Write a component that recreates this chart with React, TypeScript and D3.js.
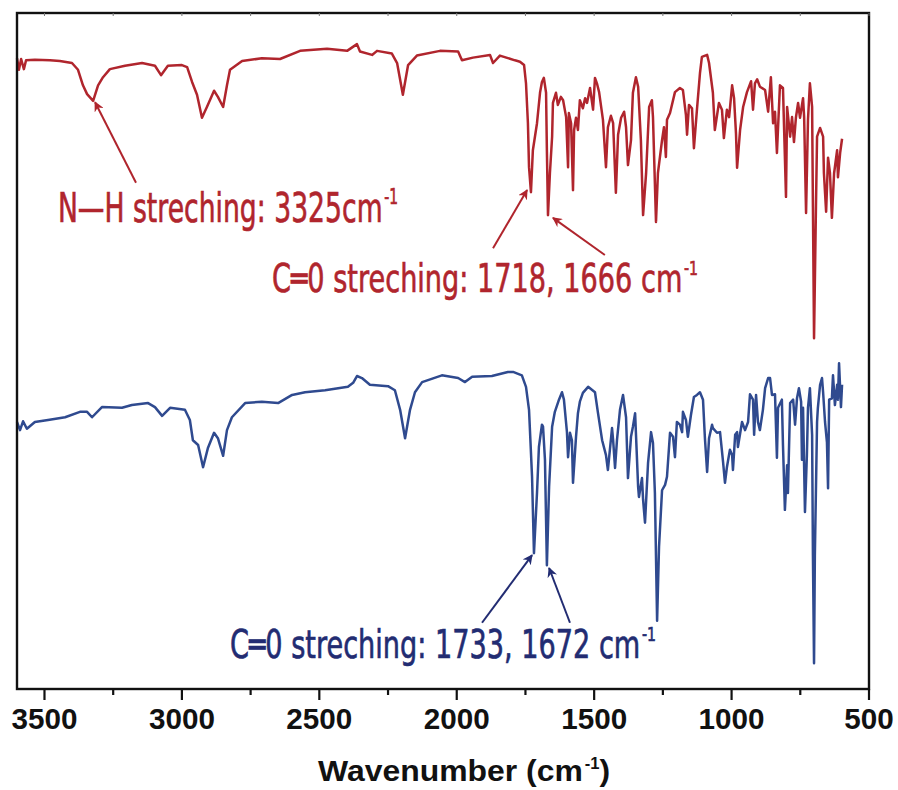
import React, { useLayoutEffect, useRef, useState } from "react";
import * as d3 from "d3";

// ---------- data (wavenumber in cm^-1, offset transmittance in a.u. 0-100) ----------
const redWavenumber = [
  3600, 3593, 3585, 3575, 3567, 3535, 3480, 3444, 3400, 3378, 3360, 3345, 3323, 3305, 3287, 3262,
  3207, 3145, 3098, 3076, 3051, 3000, 2981, 2963, 2945, 2927, 2909, 2883, 2869, 2850, 2836, 2825,
  2781, 2709, 2643, 2570, 2472, 2399, 2363, 2352, 2308, 2290, 2236, 2217, 2196, 2177, 2145, 2061,
  1995, 1981, 1941, 1879, 1868, 1843, 1788, 1770, 1755, 1748, 1741, 1737, 1730, 1723, 1708, 1697,
  1690, 1683, 1675, 1672, 1668, 1661, 1653, 1650, 1639, 1632, 1621, 1613, 1602, 1595, 1592, 1584,
  1577, 1573, 1566, 1559, 1552, 1541, 1533, 1526, 1515, 1504, 1497, 1490, 1482, 1468, 1457, 1450,
  1439, 1431, 1421, 1413, 1402, 1391, 1384, 1377, 1366, 1359, 1348, 1340, 1330, 1322, 1311, 1300,
  1290, 1286, 1275, 1268, 1253, 1246, 1239, 1235, 1224, 1206, 1188, 1177, 1166, 1162, 1155, 1144,
  1137, 1126, 1115, 1108, 1089, 1082, 1068, 1061, 1046, 1035, 1028, 1017, 1009, 998, 991, 984,
  980, 969, 958, 944, 929, 922, 915, 907, 897, 878, 867, 857, 849, 842, 835, 824,
  813, 802, 798, 787, 780, 773, 766, 758, 751, 740, 736, 729, 722, 715, 707, 704,
  700, 693, 689, 678, 667, 664, 656, 649, 642, 635, 627, 616, 613, 605, 598,
];
const redIntensity = [
  93.3, 91.6, 93.2, 91.7, 93.0, 93.1, 93.0, 92.9, 92.6, 91.6, 89.3, 88.0, 87.0, 89.3, 90.5, 91.7,
  92.2, 92.6, 92.2, 90.8, 92.2, 92.3, 92.0, 89.8, 87.9, 84.5, 86.1, 88.5, 87.6, 86.1, 89.3, 91.6,
  92.9, 93.3, 93.2, 94.4, 94.7, 94.4, 95.4, 94.3, 93.8, 94.4, 94.0, 92.6, 87.9, 92.3, 93.7, 94.4,
  94.3, 93.0, 93.4, 93.8, 92.6, 93.7, 93.0, 92.8, 92.3, 89.6, 83.7, 77.2, 73.5, 79.7, 83.7, 88.2,
  89.8, 90.4, 88.2, 79.7, 70.1, 76.3, 81.7, 86.7, 88.2, 86.4, 87.6, 87.1, 84.6, 77.2, 85.2, 83.7,
  73.8, 82.7, 84.5, 82.7, 87.1, 85.9, 87.4, 86.7, 88.9, 85.7, 90.4, 89.6, 88.3, 84.2, 77.2, 83.1,
  84.8, 83.7, 73.4, 82.0, 84.5, 85.4, 83.1, 77.5, 81.2, 88.2, 90.5, 89.1, 81.2, 70.1, 76.3, 86.1,
  87.1, 84.6, 69.1, 76.3, 81.2, 83.1, 78.7, 84.2, 85.2, 88.3, 88.9, 88.6, 84.9, 82.0, 86.4, 85.9,
  80.0, 85.7, 91.1, 93.5, 93.8, 92.6, 88.2, 82.7, 86.7, 85.7, 81.5, 85.7, 84.6, 89.3, 87.4, 82.2,
  77.1, 82.7, 86.1, 88.3, 89.9, 85.7, 89.6, 90.2, 89.1, 88.6, 85.4, 90.5, 83.7, 85.4, 79.3, 89.3,
  88.9, 72.8, 86.1, 81.7, 84.6, 80.9, 84.5, 86.7, 84.5, 87.4, 84.6, 70.4, 84.2, 89.6, 86.1, 71.3,
  51.9, 71.3, 81.7, 83.0, 81.7, 76.3, 70.6, 78.6, 76.3, 69.7, 76.3, 79.7, 75.7, 79.3, 81.4,
];

const blueWavenumber = [
  3600, 3589, 3578, 3564, 3535, 3487, 3425, 3371, 3345, 3327, 3291, 3218, 3182, 3123, 3098, 3072,
  3043, 2989, 2971, 2960, 2941, 2923, 2905, 2883, 2869, 2850, 2836, 2818, 2770, 2709, 2650, 2599,
  2552, 2479, 2396, 2377, 2363, 2345, 2316, 2250, 2225, 2206, 2188, 2170, 2152, 2126, 2054, 1995,
  1970, 1944, 1872, 1814, 1795, 1763, 1748, 1737, 1726, 1719, 1708, 1701, 1690, 1686, 1679, 1672,
  1664, 1653, 1643, 1628, 1617, 1610, 1599, 1595, 1588, 1581, 1577, 1566, 1559, 1552, 1541, 1522,
  1497, 1486, 1471, 1457, 1450, 1435, 1431, 1424, 1417, 1406, 1395, 1384, 1377, 1366, 1359, 1351,
  1340, 1337, 1326, 1322, 1315, 1304, 1293, 1286, 1279, 1271, 1264, 1253, 1242, 1235, 1224, 1213,
  1206, 1199, 1188, 1180, 1177, 1166, 1159, 1148, 1137, 1126, 1115, 1104, 1097, 1089, 1082, 1071,
  1068, 1053, 1042, 1031, 1024, 1017, 1006, 998, 995, 987, 980, 977, 962, 951, 940, 933,
  922, 918, 911, 904, 897, 886, 878, 867, 860, 853, 842, 835, 831, 817, 813, 806,
  798, 795, 787, 776, 769, 762, 755, 747, 744, 740, 733, 726, 722, 715, 707, 704,
  700, 697, 689, 686, 678, 671, 667, 660, 653, 649, 645, 635, 631, 624, 616, 613,
  609, 602, 598,
];
const blueIntensity = [
  39.5, 38.3, 39.6, 38.5, 39.5, 39.8, 40.2, 41.0, 41.0, 40.2, 41.7, 41.6, 42.0, 42.3, 41.7, 40.4,
  41.6, 41.3, 39.8, 36.8, 36.1, 32.8, 35.7, 37.9, 37.1, 34.5, 38.3, 40.2, 42.3, 42.5, 42.3, 43.5,
  43.9, 44.2, 44.7, 45.3, 46.3, 46.0, 45.0, 44.8, 44.2, 41.3, 37.1, 41.3, 43.9, 45.4, 46.4, 46.0,
  45.4, 46.2, 46.3, 46.9, 46.9, 46.4, 44.7, 41.3, 31.4, 20.1, 29.0, 35.8, 39.1, 38.8, 33.9, 18.3,
  29.9, 38.8, 41.0, 42.8, 43.9, 42.8, 38.0, 34.3, 37.9, 36.8, 30.5, 37.3, 40.8, 42.5, 43.8, 44.7,
  43.9, 40.8, 36.8, 34.6, 32.4, 38.6, 36.8, 32.7, 36.8, 41.3, 43.5, 40.2, 31.2, 37.3, 38.8, 40.8,
  29.9, 28.4, 31.2, 28.0, 24.6, 33.4, 38.0, 36.4, 29.0, 10.1, 21.0, 29.4, 30.2, 31.4, 37.9, 37.3,
  34.3, 39.5, 39.1, 38.0, 41.0, 39.8, 37.3, 40.5, 43.2, 43.5, 43.9, 42.8, 37.1, 32.1, 37.1, 39.1,
  38.6, 37.9, 38.0, 33.6, 30.5, 32.8, 35.4, 34.6, 32.4, 37.6, 38.0, 35.8, 39.5, 38.3, 39.5, 43.6,
  42.8, 37.6, 43.5, 39.5, 38.3, 41.3, 44.5, 46.0, 46.0, 43.5, 43.6, 34.2, 41.6, 42.8, 36.1, 26.5,
  33.1, 29.0, 42.3, 42.8, 39.1, 43.0, 44.5, 42.5, 33.9, 41.6, 26.2, 34.6, 41.6, 44.5, 37.6, 19.8,
  3.8, 19.8, 39.5, 41.6, 45.0, 46.0, 43.9, 39.5, 36.5, 29.7, 42.8, 43.0, 46.4, 42.0, 45.0, 42.8,
  48.2, 41.7, 45.0,
];

const majorTicks = [3500, 3000, 2500, 2000, 1500, 1000, 500];
const minorTicks = [3250, 2750, 2250, 1750, 1250, 750];
const xTitle = "Wavenumber (cm";
const superscript = "-1";

// annotations: [tailWn, tailVal, tipWn, tipVal]
const redArrows = [
  [3167, 74.9, 3316, 86.8],
  [1868, 65.2, 1744, 73.8],
  [1461, 64.2, 1650, 69.7],
];
const blueArrows = [
  [1908, 9.8, 1726, 19.8],
  [1588, 9.8, 1664, 17.9],
];
const redLabel1 = { wn: 3451, val: 69.1, text: "N—H streching: 3325cm" };
const redLabel2 = { wn: 2672, val: 58.7, text: "C═0 streching: 1718, 1666 cm" };
const blueLabel = { wn: 2825, val: 4.6, text: "C═0 streching: 1733, 1672 cm" };

// ---------- layout ----------
const W = 898;
const H = 790;
const L = 17, R = 869, T = 13, B = 689;

const RED = "#B0252D";
const BLUE = "#2F4A8F";
const NAVY = "#222C72";

const annoFont = "'DejaVu Sans', 'Liberation Sans Narrow', sans-serif";
const axisFont = "'Liberation Sans', Arial, Helvetica, sans-serif";

// text with a trailing superscript, horizontally scaled to a target width
function SupText({
  x0, y0, text, tail, width, size, color, family, weight, supDy, thick,
}: {
  x0: number; y0: number; text: string; tail?: string; width: number; size: number;
  color: string; family: string; weight?: string; supDy: number; thick?: number;
}) {
  const ref = useRef<SVGTextElement>(null);
  const [sx, setSx] = useState(0.8);
  useLayoutEffect(() => {
    if (ref.current) {
      const natural = ref.current.getBBox().width;
      if (natural > 0) setSx(width / natural);
    }
  }, [width, text]);
  return (
    <g transform={`translate(${x0},${y0}) scale(${sx},1)`}>
      <text
        ref={ref}
        x={0}
        y={0}
        fontFamily={family}
        fontWeight={weight || "normal"}
        fontSize={size}
        fill={color}
        stroke={thick ? color : "none"}
        strokeWidth={thick || 0}
      >
        {text}
        <tspan dx={size * 0.06} dy={-supDy} fontSize={size * 0.52}>{superscript}</tspan>
        {tail ? <tspan dy={supDy}>{tail}</tspan> : null}
      </text>
    </g>
  );
}

export default function App() {
  const x = d3.scaleLinear().domain([3600, 500]).range([L, R]);
  const y = d3.scaleLinear().domain([0, 100]).range([B, T]);

  const line = d3
    .line<[number, number]>()
    .x((d) => x(d[0]))
    .y((d) => y(d[1]));

  const redPts = redWavenumber.map((w, i) => [w, redIntensity[i]] as [number, number]);
  const bluePts = blueWavenumber.map((w, i) => [w, blueIntensity[i]] as [number, number]);

  const arrow = (a: number[], color: string, id: string, k: number) => (
    <line
      key={id + k}
      x1={x(a[0])}
      y1={y(a[1])}
      x2={x(a[2])}
      y2={y(a[3])}
      stroke={color}
      strokeWidth={2}
      markerEnd={`url(#${id})`}
    />
  );

  return (
    <svg
      width={W}
      height={H}
      viewBox={`0 0 ${W} ${H}`}
      style={{ position: "absolute", left: 0, top: 0, background: "#fff" }}
    >
      <defs>
        <marker id="arRed" viewBox="0 0 10 10" refX="9" refY="5" markerWidth="5" markerHeight="5" orient="auto" markerUnits="strokeWidth">
          <path d="M0,0 L10,5 L0,10 L3,5 Z" fill={RED} />
        </marker>
        <marker id="arBlue" viewBox="0 0 10 10" refX="9" refY="5" markerWidth="5" markerHeight="5" orient="auto" markerUnits="strokeWidth">
          <path d="M0,0 L10,5 L0,10 L3,5 Z" fill={NAVY} />
        </marker>
      </defs>

      {/* spectra */}
      <path d={line(redPts) || ""} fill="none" stroke={RED} strokeWidth={2.5} strokeLinejoin="round" />
      <path d={line(bluePts) || ""} fill="none" stroke={BLUE} strokeWidth={2.5} strokeLinejoin="round" />

      {/* frame */}
      <rect x={L} y={T} width={R - L} height={B - T} fill="none" stroke="#111" strokeWidth={2.4} />

      {/* faint inner ticks on top */}
      {[...majorTicks, ...minorTicks].map((t) => (
        <line key={"tt" + t} x1={x(t)} x2={x(t)} y1={T} y2={T + 3} stroke="#777" strokeWidth={1} />
      ))}

      {/* bottom ticks */}
      {majorTicks.map((t) => (
        <line key={"mt" + t} x1={x(t)} x2={x(t)} y1={B} y2={B + 11} stroke="#111" strokeWidth={2.2} />
      ))}
      {minorTicks.map((t) => (
        <line key={"nt" + t} x1={x(t)} x2={x(t)} y1={B} y2={B + 6} stroke="#111" strokeWidth={2.2} />
      ))}
      {majorTicks.map((t) => (
        <text
          key={"lb" + t}
          x={x(t)}
          y={729}
          textAnchor="middle"
          fontFamily={axisFont}
          fontWeight="bold"
          fontSize={30}
          fill="#111"
          textLength={String(t).length * 16.5}
          lengthAdjust="spacingAndGlyphs"
        >
          {t}
        </text>
      ))}

      {/* axis title */}
      <SupText x0={318} y0={781} text={xTitle} tail=")" width={292} size={30} color="#111" family={axisFont} weight="bold" supDy={12} />

      {/* annotations */}
      {redArrows.map((a, k) => arrow(a, RED, "arRed", k))}
      {blueArrows.map((a, k) => arrow(a, NAVY, "arBlue", k))}

      <SupText x0={x(redLabel1.wn)} y0={y(redLabel1.val)} text={redLabel1.text} width={340} size={41} color={RED} family={annoFont} supDy={18} thick={0.7} />
      <SupText x0={x(redLabel2.wn)} y0={y(redLabel2.val)} text={redLabel2.text} width={426} size={39} color={RED} family={annoFont} supDy={17} thick={0.7} />
      <SupText x0={x(blueLabel.wn)} y0={y(blueLabel.val)} text={blueLabel.text} width={426} size={39} color={NAVY} family={annoFont} supDy={17} thick={0.7} />
    </svg>
  );
}
